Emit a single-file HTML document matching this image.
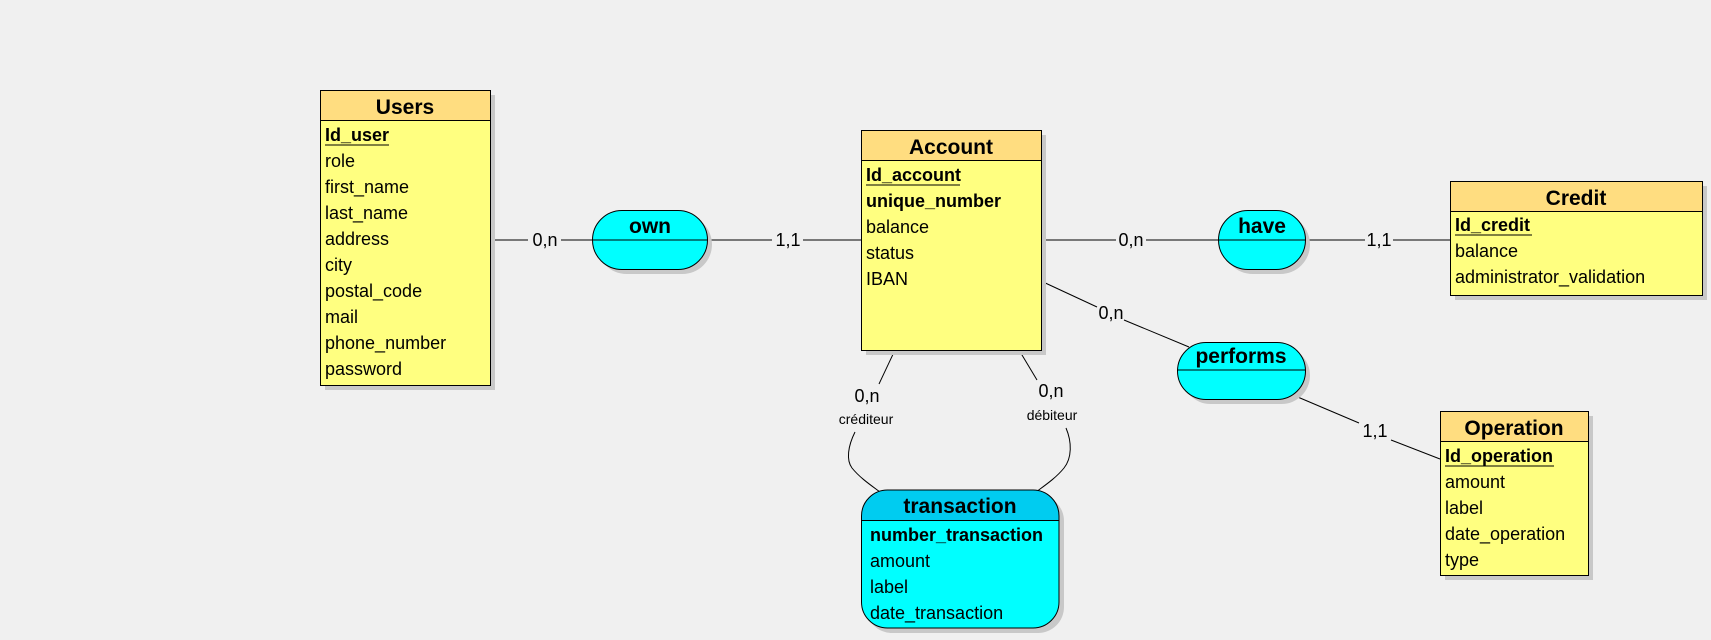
<!DOCTYPE html>
<html><head><meta charset="utf-8"><style>
html,body{margin:0;padding:0;background:#f0f0f0;}
svg{display:block;}
text{font-family:"Liberation Sans","DejaVu Sans",sans-serif;fill:#000;}
.t{font-size:21px;font-weight:bold;text-anchor:middle;}
.a{font-size:18px;}
.b{font-size:18px;font-weight:bold;}
.c{font-size:18px;text-anchor:middle;}
.s{font-size:14px;text-anchor:middle;}
</style></head><body>
<svg width="1711" height="640" viewBox="0 0 1711 640" xmlns="http://www.w3.org/2000/svg">
<rect width="1711" height="640" fill="#f0f0f0"/>
<g stroke="#000" stroke-width="1" fill="none">
<line x1="490" y1="240" x2="528" y2="240"/><line x1="561" y1="240" x2="592" y2="240"/>
<line x1="707" y1="240" x2="772" y2="240"/><line x1="803" y1="240" x2="861" y2="240"/>
<line x1="1041" y1="240" x2="1116" y2="240"/><line x1="1146" y1="240" x2="1218" y2="240"/>
<line x1="1305" y1="240" x2="1365" y2="240"/><line x1="1393" y1="240" x2="1450" y2="240"/>
<line x1="1041" y1="281" x2="1097" y2="307"/><line x1="1124" y1="320" x2="1189" y2="347"/>
<line x1="1293" y1="395" x2="1359" y2="423"/><line x1="1391" y1="440" x2="1440" y2="459"/>
<line x1="895" y1="350" x2="879" y2="384"/>
<path d="M855,432 C848,446 846,460 852,468 C860,478 872,486 880,492"/>
<line x1="1019" y1="350" x2="1037" y2="380"/>
<path d="M1066,428 C1072,442 1072,458 1064,468 C1056,478 1044,486 1036,492"/>
</g>
<!-- Users -->
<rect x="325" y="95" width="170" height="295" fill="#c8c8c8"/>
<rect x="320.5" y="90.5" width="170" height="295" fill="#ffff80" stroke="#000"/>
<rect x="320.5" y="90.5" width="170" height="30" fill="#ffdd80" stroke="#000"/>
<text class="t" x="405" y="114">Users</text>
<text class="b" x="325" y="141">Id_user</text>
<line x1="325" y1="145" x2="389" y2="145" stroke="#000"/>
<text class="a" x="325" y="167">role</text>
<text class="a" x="325" y="193">first_name</text>
<text class="a" x="325" y="219">last_name</text>
<text class="a" x="325" y="245">address</text>
<text class="a" x="325" y="271">city</text>
<text class="a" x="325" y="297">postal_code</text>
<text class="a" x="325" y="323">mail</text>
<text class="a" x="325" y="349">phone_number</text>
<text class="a" x="325" y="375">password</text>
<!-- own -->
<rect x="597" y="215" width="115" height="59" rx="29.5" fill="#c8c8c8"/>
<rect x="592.5" y="210.5" width="115" height="59" rx="29.5" fill="#00ffff" stroke="#000"/>
<line x1="592" y1="240" x2="707" y2="240" stroke="#000"/>
<text class="t" x="650" y="233">own</text>
<text class="c" x="545" y="246">0,n</text>
<text class="c" x="788" y="246">1,1</text>
<!-- Account -->
<rect x="866" y="135" width="180" height="220" fill="#c8c8c8"/>
<rect x="861.5" y="130.5" width="180" height="220" fill="#ffff80" stroke="#000"/>
<rect x="861.5" y="130.5" width="180" height="30" fill="#ffdd80" stroke="#000"/>
<text class="t" x="951" y="154">Account</text>
<text class="b" x="866" y="181">Id_account</text>
<line x1="866" y1="185" x2="960" y2="185" stroke="#000"/>
<text class="b" x="866" y="207">unique_number</text>
<text class="a" x="866" y="233">balance</text>
<text class="a" x="866" y="259">status</text>
<text class="a" x="866" y="285">IBAN</text>
<text class="c" x="1131" y="246">0,n</text>
<text class="c" x="1111" y="319">0,n</text>
<text class="c" x="867" y="402">0,n</text>
<text class="s" x="866" y="424">créditeur</text>
<text class="c" x="1051" y="397">0,n</text>
<text class="s" x="1052" y="420">débiteur</text>
<!-- transaction -->
<rect x="866" y="495" width="198" height="138" rx="26" fill="#c8c8c8"/>
<path d="M861.5,520.5 V516 a26,26 0 0 1 26,-26 H1033 a26,26 0 0 1 26,26 V520.5 Z" fill="#00ccf0" stroke="#000"/>
<path d="M861.5,520.5 H1059 V602 a26,26 0 0 1 -26,26 H887.5 a26,26 0 0 1 -26,-26 Z" fill="#00ffff" stroke="#000"/>
<text class="t" x="960" y="513">transaction</text>
<text class="b" x="870" y="541">number_transaction</text>
<text class="a" x="870" y="567">amount</text>
<text class="a" x="870" y="593">label</text>
<text class="a" x="870" y="619">date_transaction</text>
<!-- have -->
<rect x="1223" y="215" width="87" height="59" rx="29.5" fill="#c8c8c8"/>
<rect x="1218.5" y="210.5" width="87" height="59" rx="29.5" fill="#00ffff" stroke="#000"/>
<line x1="1218" y1="240" x2="1305" y2="240" stroke="#000"/>
<text class="t" x="1262" y="233">have</text>
<text class="c" x="1379" y="246">1,1</text>
<!-- Credit -->
<rect x="1455" y="186" width="252" height="114" fill="#c8c8c8"/>
<rect x="1450.5" y="181.5" width="252" height="114" fill="#ffff80" stroke="#000"/>
<rect x="1450.5" y="181.5" width="252" height="30" fill="#ffdd80" stroke="#000"/>
<text class="t" x="1576" y="205">Credit</text>
<text class="b" x="1455" y="231">Id_credit</text>
<line x1="1455" y1="235" x2="1532" y2="235" stroke="#000"/>
<text class="a" x="1455" y="257">balance</text>
<text class="a" x="1455" y="283">administrator_validation</text>
<!-- performs -->
<rect x="1182" y="347" width="128" height="57" rx="28.5" fill="#c8c8c8"/>
<rect x="1177.5" y="342.5" width="128" height="57" rx="28.5" fill="#00ffff" stroke="#000"/>
<line x1="1177" y1="370" x2="1305" y2="370" stroke="#000"/>
<text class="t" x="1241" y="363">performs</text>
<text class="c" x="1375" y="437">1,1</text>
<!-- Operation -->
<rect x="1445" y="416" width="148" height="164" fill="#c8c8c8"/>
<rect x="1440.5" y="411.5" width="148" height="164" fill="#ffff80" stroke="#000"/>
<rect x="1440.5" y="411.5" width="148" height="30" fill="#ffdd80" stroke="#000"/>
<text class="t" x="1514" y="435">Operation</text>
<text class="b" x="1445" y="462">Id_operation</text>
<line x1="1445" y1="466" x2="1554" y2="466" stroke="#000"/>
<text class="a" x="1445" y="488">amount</text>
<text class="a" x="1445" y="514">label</text>
<text class="a" x="1445" y="540">date_operation</text>
<text class="a" x="1445" y="566">type</text>
</svg>
</body></html>
